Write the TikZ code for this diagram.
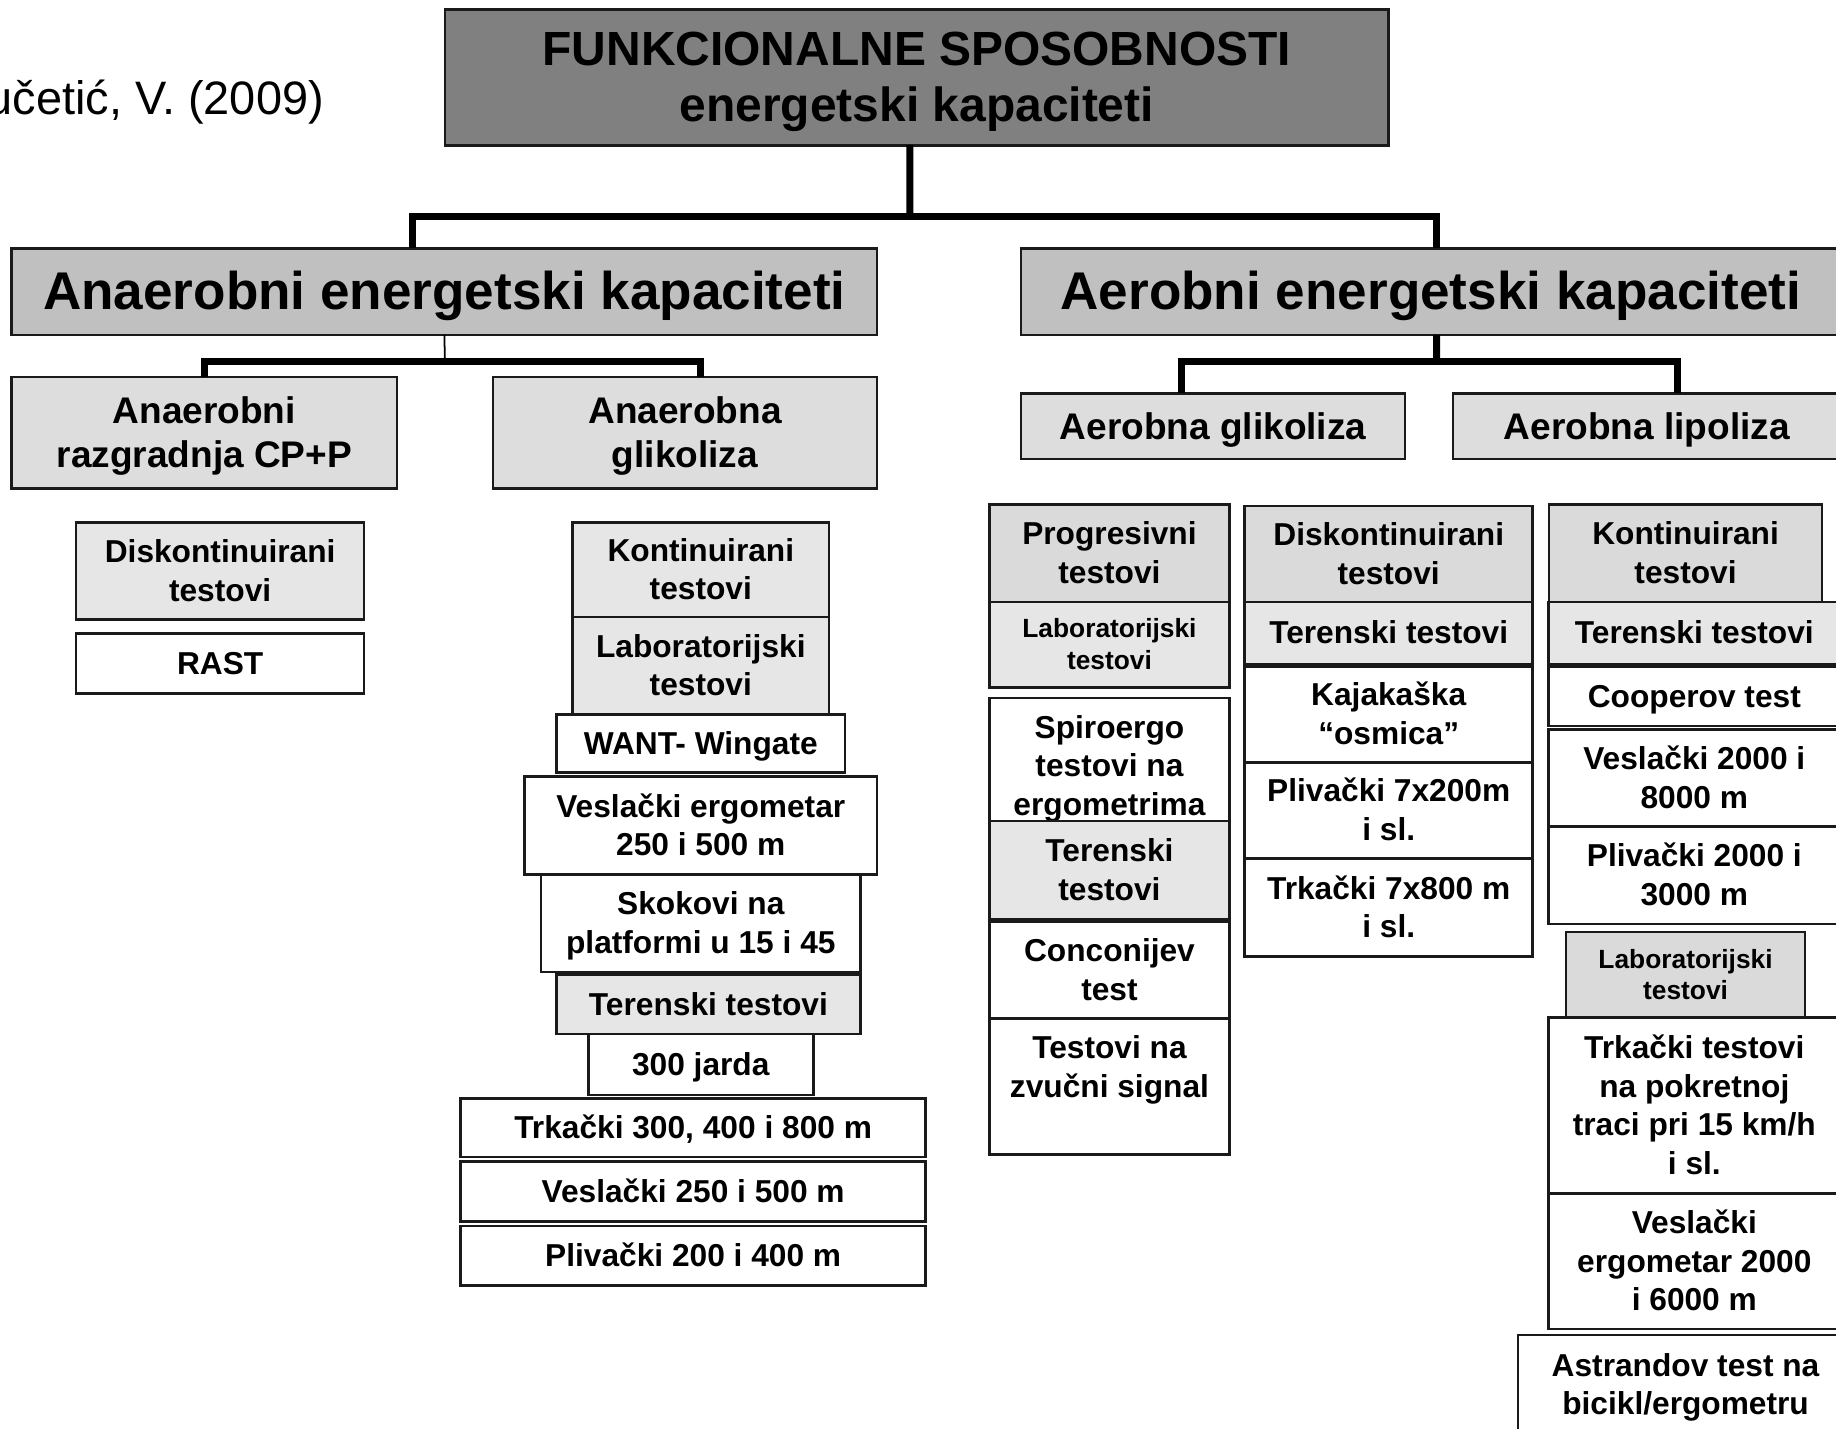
\documentclass[tikz,border=0pt]{standalone}
\usepackage{fontspec}
\setmainfont{Liberation Sans}
\usetikzlibrary{positioning}
\definecolor{topgray}{HTML}{808080}
\definecolor{midgray}{HTML}{C0C0C0}
\definecolor{lowgray}{HTML}{DDDDDD}
\definecolor{hdrgray}{HTML}{DADADA}
\definecolor{subgray}{HTML}{E6E6E6}
\definecolor{edge}{HTML}{1A1A1A}
% every line gets the ascent and descent of the font
\newcommand\boxstrut{\rule[-0.212em]{0pt}{1.117em}}
\def\boxheader{\hfil\boxstrut##\unskip\hfil\cr}

\begin{document}
\begin{tikzpicture}[
    x=0.2mm, y=-0.2mm,
    node distance=0pt,
    box/.style={draw=edge, line width=0.45mm, align=center, node halign header=\boxheader, execute at begin node=\boxstrut, inner sep=1pt, outer sep=0pt, fill=white, font=\bfseries\fontsize{15.4}{18.8}\selectfont},
    titlebox/.style={box, fill=topgray, minimum width=161.2mm, minimum height=23.2mm, font=\bfseries\fontsize{23.3}{27.3}\selectfont},
    capbox/.style={box, fill=midgray, minimum height=14.8mm, font=\bfseries\fontsize{25.8}{30}\selectfont},
    kindbox/.style={box, fill=lowgray, font=\bfseries\fontsize{18}{21.6}\selectfont},
    hdrbox/.style={box, fill=hdrgray},
    subbox/.style={box, fill=subgray},
    smallhdr/.style={font=\bfseries\fontsize{12.8}{15.4}\selectfont},
    bar/.style={draw=black, line width=1.2mm},
    thinbar/.style={draw=black, line width=0.3mm}
]
\useasboundingbox (0,0) rectangle (1568,1220);

\node[anchor=east, inner sep=0pt, font=\fontsize{22.8}{26}\selectfont] (author) at (277,87) {učetić, V. (2009)};
\node[titlebox] (title) at (783,66) {FUNKCIONALNE SPOSOBNOSTI\\energetski kapaciteti};

\node[capbox, minimum width=147.8mm] (anaer) at (379.5,249) {Anaerobni energetski kapaciteti};
\node[capbox, minimum width=140mm] (aer) at (1222,249) {Aerobni energetski kapaciteti};

\node[kindbox, minimum width=65.8mm, minimum height=19mm] (cpp) at (174.5,369.5) {Anaerobni\\razgradnja CP+P};
\node[kindbox, minimum width=65.6mm, minimum height=19mm] (glik) at (585,369.5) {Anaerobna\\glikoliza};
\node[kindbox, minimum width=65.6mm, minimum height=11.2mm] (aglik) at (1036,364) {Aerobna glikoliza};
\node[kindbox, minimum width=66.2mm, minimum height=11.2mm] (alip) at (1406.5,364) {Aerobna lipoliza};

% connectors
\coordinate (topsplit) at (777,185);
\coordinate (anaersplit) at (380,309);
\coordinate (aersplit) at (1227,309);
\draw[bar] ([xshift=-1.2mm]title.south) -- (topsplit);
\draw[bar] ([xshift=-5.5mm]anaer.north) |- (topsplit) -| ([xshift=1mm]aer.north);
\draw[thinbar] (anaer.south) -- (anaersplit);
\draw[bar] (cpp.north) |- (anaersplit) -| ([xshift=2.6mm]glik.north);
\draw[bar] ([xshift=1mm]aer.south) -- (aersplit);
\draw[bar] ([xshift=-5.4mm]aglik.north) |- (aersplit) -| ([xshift=5.3mm]alip.north);

% anaerobni razgradnja
\node[subbox, minimum width=49.2mm, minimum height=16.6mm] (a1) at (188,487.5) {Diskontinuirani\\testovi};
\node[box, minimum width=49.2mm, minimum height=10.2mm, below=2.4mm of a1] (a2) {RAST};

% anaerobna glikoliza
\node[subbox, minimum width=43.8mm, minimum height=16.2mm] (b1) at (598.5,486.5) {Kontinuirani\\testovi};
\node[subbox, minimum width=43.8mm, minimum height=16.6mm, below=of b1] (b2) {Laboratorijski\\testovi};
\node[box, minimum width=49.2mm, minimum height=10mm, below=of b2] (b3) {WANT- Wingate};
\node[box, minimum width=60.2mm, minimum height=16.8mm, below=0.6mm of b3] (b4) {Veslački ergometar\\250 i 500 m};
\node[box, minimum width=54.6mm, minimum height=16.6mm, below=of b4] (b5) {Skokovi na\\platformi u 15 i 45};
\node[subbox, minimum width=52mm, minimum height=10.2mm, below=0.4mm of b5, xshift=1.3mm] (b6) {Terenski testovi};
\node[box, minimum width=38.4mm, minimum height=10.4mm, below=of b6, xshift=-1.3mm] (b7) {300 jarda};
\node[box, minimum width=79.4mm, minimum height=10mm, below=0.6mm of b7, xshift=-1.3mm] (b8) {Trkački 300, 400 i 800 m};
\node[box, minimum width=79.4mm, minimum height=10.2mm, below=0.8mm of b8] (b9) {Veslački 250 i 500 m};
\node[box, minimum width=79.4mm, minimum height=10.2mm, below=0.8mm of b9] (b10) {Plivački 200 i 400 m};

% aerobna glikoliza
\node[hdrbox, minimum width=41mm, minimum height=16.6mm] (c1) at (947.5,472.5) {Progresivni\\testovi};
\node[subbox, smallhdr, minimum width=41mm, minimum height=14.6mm, below=of c1] (c2) {Laboratorijski\\testovi};
\node[box, minimum width=41mm, minimum height=23.2mm, below=1.8mm of c2] (c3) {Spiroergo\\testovi na\\ergometrima};
\node[subbox, minimum width=41mm, minimum height=16.8mm, below=-2.2mm of c3] (c4) {Terenski\\testovi};
\node[box, minimum width=41mm, minimum height=16.6mm, below=0.4mm of c4] (c5) {Conconijev\\test};
\node[box, minimum width=41mm, minimum height=23.2mm, below=of c5] (c6) {Testovi na\\zvučni signal\\\mbox{}};

\node[hdrbox, minimum width=49.2mm, minimum height=16.4mm] (d1) at (1186,473) {Diskontinuirani\\testovi};
\node[subbox, minimum width=49.2mm, minimum height=10.6mm, below=of d1] (d2) {Terenski testovi};
\node[box, minimum width=49.2mm, minimum height=16.4mm, below=0.4mm of d2] (d3) {Kajakaška\\“osmica”};
\node[box, minimum width=49.2mm, minimum height=16.4mm, below=of d3] (d4) {Plivački 7x200m\\i sl.};
\node[box, minimum width=49.2mm, minimum height=16.8mm, below=of d4] (d5) {Trkački 7x800 m\\i sl.};

% aerobna lipoliza
\node[hdrbox, minimum width=46.6mm, minimum height=16.6mm] (e1) at (1439.5,472.5) {Kontinuirani\\testovi};
\node[subbox, minimum width=49.8mm, minimum height=10.6mm, below=of e1, xshift=1.5mm] (e2) {Terenski testovi};
\node[box, minimum width=49.8mm, minimum height=10.2mm, below=0.4mm of e2] (e3) {Cooperov test};
\node[box, minimum width=49.8mm, minimum height=16.6mm, below=0.6mm of e3] (e4) {Veslački 2000 i\\8000 m};
\node[box, minimum width=49.8mm, minimum height=16.6mm, below=of e4] (e5) {Plivački 2000 i\\3000 m};
\node[hdrbox, smallhdr, minimum width=40.8mm, minimum height=14.6mm, below=1.4mm of e5, xshift=-1.5mm] (e6) {Laboratorijski\\testovi};
\node[box, minimum width=49.8mm, minimum height=30mm, below=of e6, xshift=1.5mm] (e7) {Trkački testovi\\na pokretnoj\\traci pri 15 km/h\\i sl.};
\node[box, minimum width=49.8mm, minimum height=23.2mm, below=of e7] (e8) {Veslački\\ergometar 2000\\i 6000 m};
\node[box, minimum width=57.2mm, minimum height=17mm, below=1mm of e8, xshift=-1.5mm] (e9) {Astrandov test na\\bicikl/ergometru};
\end{tikzpicture}
\end{document}
